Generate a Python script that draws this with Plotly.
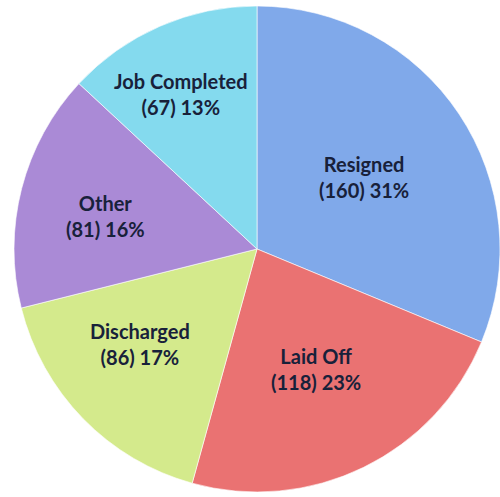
import math
import plotly.graph_objects as go

# Reasons for separation, clockwise from 12 o'clock
categories = ["Resigned", "Laid Off", "Discharged", "Other", "Job Completed"]
counts = [160, 118, 86, 81, 67]
percent_labels = ["31%", "23%", "17%", "16%", "13%"]

slice_colors = ["#80a9ea", "#ea7272", "#d4ea8c", "#aa8ad6", "#84daee"]

# Label placement inside each slice: fraction of radius and angular nudge (deg)
label_radius_frac = [0.53, 0.55, 0.62, 0.64, 0.71]
label_angle_nudge = [0.0, 0.0, 5.0, -2.0, -2.5]

W, H = 500, 497
dom_x = [0.028, 1.0]
dom_y = [0.008, 0.99]

fig = go.Figure(
    go.Pie(
        labels=categories,
        values=counts,
        textinfo="none",
        sort=False,
        direction="clockwise",
        rotation=0,
        marker=dict(colors=slice_colors, line=dict(color="rgba(255,255,255,0.6)", width=1)),
        hoverinfo="skip",
        domain=dict(x=dom_x, y=dom_y),
    )
)

# Slice labels placed along each slice's bisector
cx = (dom_x[0] + dom_x[1]) / 2 * W
cy = (dom_y[0] + dom_y[1]) / 2 * H
radius = min((dom_x[1] - dom_x[0]) * W, (dom_y[1] - dom_y[0]) * H) / 2
total = sum(counts)
start = 0.0
for cat, n, pct, frac, nudge in zip(categories, counts, percent_labels,
                                    label_radius_frac, label_angle_nudge):
    sweep = n / total * 360.0
    theta = math.radians(start + sweep / 2 + nudge)
    start += sweep
    r = frac * radius
    px = cx + r * math.sin(theta)
    py = cy + r * math.cos(theta)
    fig.add_annotation(
        x=px / W, y=py / H, xref="paper", yref="paper",
        text=f"{cat}<br>({n}) {pct}",
        showarrow=False,
        xanchor="center", yanchor="middle",
        font=dict(family="Lato", size=20, color="#18213a", weight="bold"),
    )

fig.update_layout(
    width=W,
    height=H,
    margin=dict(l=0, r=0, t=0, b=0),
    paper_bgcolor="white",
    showlegend=False,
)

fig.write_html("out.html")
